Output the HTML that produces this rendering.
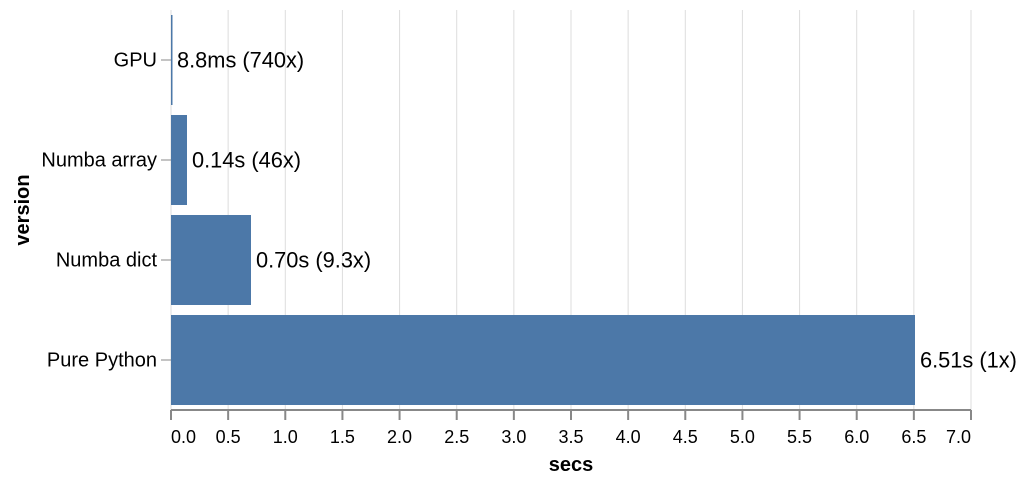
<!DOCTYPE html>
<html><head><meta charset="utf-8">
<style>
body{margin:0;background:#fff;}
svg{display:block;font-family:"Liberation Sans",Arial,sans-serif;}
</style></head>
<body>
<svg id="chart" width="1028" height="484"></svg>
<script>
const categories = ["GPU","Numba array","Numba dict","Pure Python"];
const secs = [0.0088,0.14,0.70,6.51];
const labels = ["8.8ms (740x)","0.14s (46x)","0.70s (9.3x)","6.51s (1x)"];
const ticks = [0,0.5,1,1.5,2,2.5,3,3.5,4,4.5,5,5.5,6,6.5,7];

const NS="http://www.w3.org/2000/svg";
const svg=document.getElementById('chart');
const X0=171, X1=971, Y0=10, Y1=410, XMAX=7;
const x=v=>X0+(v/XMAX)*(X1-X0);
const band=(Y1-Y0)/categories.length;
const y=i=>Y0+i*band;
function mk(tag,attrs,parent){const e=document.createElementNS(NS,tag);for(const k in attrs)e.setAttribute(k,attrs[k]);(parent||svg).appendChild(e);return e;}

const grid=mk('g',{});


ticks.forEach(t=>{
  const l=mk('line',{x1:x(t),x2:x(t),y1:Y0,y2:Y1,stroke:'#ddd','stroke-width':1},grid);
  
  
});

const bars=mk('g',{});


categories.forEach((c,i)=>{
  const r=mk('rect',{x:X0,y:y(i)+band*0.05,width:Math.max(x(secs[i])-X0,1.5),height:band*0.9,fill:'#4c78a8'},bars);
  
  
  const t=mk('text',{x:x(secs[i])+5,y:y(i)+band/2+7.5,'font-size':21.8,fill:'#000'},bars);
  t.textContent=labels[i];
  
  
  const tk=mk('line',{x1:X0-10,x2:X0,y1:y(i)+band/2,y2:y(i)+band/2,stroke:'#888'});
  
  
  const yl=mk('text',{x:X0-14,y:y(i)+band/2+6.5,'font-size':20,'text-anchor':'end',fill:'#000'});
  yl.textContent=c;
  
  
});

const ax=mk('line',{x1:X0,x2:X1,y1:Y1,y2:Y1,stroke:'#888','stroke-width':2});


ticks.forEach(t=>{
  const l=mk('line',{x1:x(t),x2:x(t),y1:Y1,y2:Y1+10,stroke:'#888','stroke-width':2});
  
  
  const tx=mk('text',{x:x(t),y:Y1+33,'font-size':18,'text-anchor':t===0?'start':(t===XMAX?'end':'middle'),fill:'#000'});
  tx.textContent=t.toFixed(1);
  
  
});
const xt=mk('text',{x:(X0+X1)/2,y:471,'font-size':20,'font-weight':'bold','text-anchor':'middle'});
xt.textContent='secs';


const yt=mk('text',{x:0,y:0,'font-size':20,'font-weight':'bold','text-anchor':'middle',transform:'translate(29,210) rotate(-90)'});
yt.textContent='version';


</script>
</body></html>
